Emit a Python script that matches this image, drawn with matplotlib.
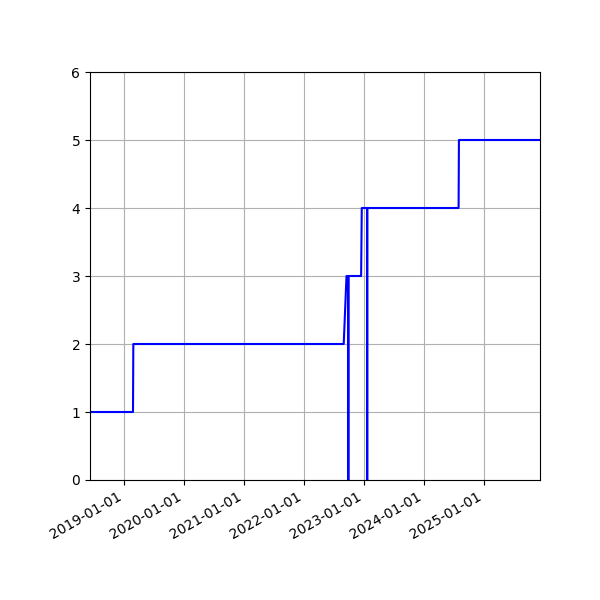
import matplotlib
matplotlib.use("Agg")
import matplotlib.pyplot as plt
import matplotlib.dates as mdates
import pandas as pd

dates = ["2018-06-06", "2019-02-23", "2019-02-25", "2022-08-30", "2022-09-16",
         "2022-09-27", "2022-09-27", "2022-09-27", "2022-12-14", "2022-12-18",
         "2023-01-20", "2023-01-20", "2023-01-20", "2024-07-30", "2024-08-01",
         "2025-12-08"]
values = [1, 1, 2, 2, 3, 3, 0, 3, 3, 4, 4, 0, 4, 4, 5, 5]

x = pd.to_datetime(dates)

fig, ax = plt.subplots(figsize=(6, 6), dpi=100)
ax.plot(x, values, color="blue")
ax.set_xlim(x[0], x[-1])
ax.set_ylim(0, 6)
ax.xaxis.set_major_locator(mdates.YearLocator())
ax.xaxis.set_major_formatter(mdates.DateFormatter("%Y-%m-%d"))
ax.grid(True)
fig.autofmt_xdate()
fig.subplots_adjust(left=0.15, right=0.9, top=0.88, bottom=0.2)
fig.savefig("out.png", dpi=100)
